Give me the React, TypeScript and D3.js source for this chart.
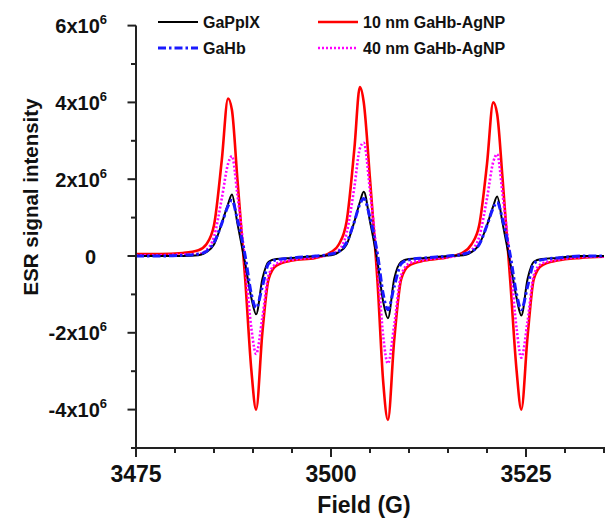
import React from "react";
import * as d3 from "d3";

const field = [
  3475, 3478, 3481,
  3483, 3484, 3485, 3486, 3486.8, 3487.3, 3488, 3489, 3489.8, 3490.4, 3491.2, 3492, 3493,
  3495, 3498,
  3500, 3501, 3502, 3503, 3503.7, 3504.2, 3505, 3506, 3506.7, 3507.3, 3508.1, 3509, 3510,
  3512, 3515,
  3517, 3518, 3519, 3520, 3520.8, 3521.3, 3522, 3523, 3523.8, 3524.4, 3525.2, 3526, 3527,
  3529, 3532, 3535,
];

// values in units of 1e6
const gaPpIX = [
  0, 0, 0,
  0.02, 0.1, 0.3, 0.85, 1.35, 1.6, 0.85, -0.2, -1.1, -1.52, -0.6, -0.15, -0.08,
  -0.05, 0,
  0.02, 0.1, 0.3, 0.9, 1.4, 1.67, 0.9, -0.2, -1.2, -1.62, -0.6, -0.15, -0.08,
  -0.05, 0,
  0.02, 0.1, 0.3, 0.8, 1.3, 1.55, 0.85, -0.2, -1.1, -1.55, -0.6, -0.15, -0.08,
  -0.05, 0, 0,
];
const gaHb = [
  0, 0, 0.02,
  0.05, 0.12, 0.35, 0.85, 1.3, 1.45, 0.95, 0.0, -1.0, -1.35, -0.8, -0.2, -0.1,
  -0.05, 0,
  0.05, 0.12, 0.35, 0.9, 1.35, 1.5, 1.0, 0.0, -1.0, -1.4, -0.8, -0.2, -0.1,
  -0.05, 0,
  0.05, 0.12, 0.3, 0.8, 1.25, 1.4, 0.95, 0.0, -1.0, -1.4, -0.8, -0.2, -0.1,
  -0.05, 0, 0,
];
const nm10 = [
  0.05, 0.05, 0.08,
  0.15, 0.3, 0.8, 2.5, 4.1, 3.8, 2.0, -0.6, -3.0, -4.0, -2.0, -0.6, -0.25,
  -0.12, -0.05,
  0.1, 0.3, 0.9, 2.8, 4.4, 4.0, 2.0, -0.8, -3.3, -4.27, -2.2, -0.6, -0.25,
  -0.12, -0.03,
  0.1, 0.3, 0.8, 2.4, 4.0, 3.7, 2.0, -0.7, -3.0, -4.0, -2.1, -0.6, -0.25,
  -0.12, -0.05, -0.02,
];
const nm40 = [
  0.02, 0.02, 0.04,
  0.05, 0.15, 0.5, 1.5, 2.4, 2.6, 1.6, -0.2, -1.9, -2.55, -1.6, -0.5, -0.2,
  -0.1, -0.03,
  0.05, 0.15, 0.6, 1.8, 2.8, 2.95, 1.7, -0.3, -2.1, -2.8, -1.8, -0.5, -0.2,
  -0.1, -0.03,
  0.05, 0.15, 0.5, 1.5, 2.45, 2.65, 1.6, -0.2, -1.9, -2.65, -1.7, -0.5, -0.2,
  -0.1, -0.03, -0.01,
];

const yMajor = [-4, -2, 0, 2, 4, 6];
const yMinor = [-5, -3, -1, 1, 3, 5];
const xMajor = [3475, 3500, 3525];
const xMinor = [3480, 3485, 3490, 3495, 3505, 3510, 3515, 3520, 3530, 3535];

const seriesNames = ["GaPpIX", "GaHb", "10 nm GaHb-AgNP", "40 nm GaHb-AgNP"];

export default function App() {
  const W = 605, H = 520;
  const x = d3.scaleLinear().domain([3475, 3535]).range([136, 604]);
  const y = d3.scaleLinear().domain([-5, 6]).range([448, 25.6]);
  const line = (vals: number[]) =>
    d3
      .line<number>()
      .x((_, i) => x(field[i]))
      .y((v) => y(v))
      .curve(d3.curveMonotoneX)(vals) || "";

  const styles = [
    { color: "#000000", width: 2, dash: undefined as string | undefined, data: gaPpIX },
    { color: "#1a1aff", width: 3, dash: "8,3,2.5,3", data: gaHb },
    { color: "#ff0000", width: 2.6, dash: undefined, data: nm10 },
    { color: "#ff00ff", width: 2.6, dash: "2,2", data: nm40 },
  ];
  const drawOrder = [2, 3, 0, 1];
  const axisColor = "#222";
  const font = "'Liberation Sans', Arial, sans-serif";

  const legendPos = [
    { lx: 158, ty: 28 },
    { lx: 158, ty: 54 },
    { lx: 318, ty: 28 },
    { lx: 318, ty: 54 },
  ];

  return (
    <svg width={W} height={H} style={{ position: "absolute", left: 0, top: 0, background: "#fff" }} fontFamily={font}>
      <rect x={0} y={0} width={W} height={H} fill="#fff" />
      {drawOrder.map((k) => (
        <path
          key={k}
          d={line(styles[k].data)}
          fill="none"
          stroke={styles[k].color}
          strokeWidth={styles[k].width}
          strokeDasharray={styles[k].dash}
          strokeLinejoin="round"
        />
      ))}
      {/* axes */}
      <line x1={x(3475)} x2={x(3475)} y1={y(6)} y2={y(-5)} stroke={axisColor} strokeWidth={2} />
      <line x1={x(3475) - 1} x2={W} y1={y(-5)} y2={y(-5)} stroke={axisColor} strokeWidth={2} />
      {yMajor.map((v) => (
        <line key={"ym" + v} x1={x(3475) - 8.5} x2={x(3475)} y1={y(v)} y2={y(v)} stroke={axisColor} strokeWidth={2} />
      ))}
      {yMinor.map((v) => (
        <line key={"yn" + v} x1={x(3475) - 5} x2={x(3475)} y1={y(v)} y2={y(v)} stroke={axisColor} strokeWidth={2} />
      ))}
      {xMajor.map((v) => (
        <line key={"xm" + v} x1={x(v)} x2={x(v)} y1={y(-5)} y2={y(-5) + 9} stroke={axisColor} strokeWidth={2} />
      ))}
      {xMinor.map((v) => (
        <line key={"xn" + v} x1={x(v)} x2={x(v)} y1={y(-5)} y2={y(-5) + 5} stroke={axisColor} strokeWidth={2} />
      ))}
      {/* y tick labels */}
      {yMajor.map((v) =>
        v === 0 ? (
          <text key={"yl" + v} x={96} y={y(v) + 7.5} textAnchor="end" fontSize={20} fontWeight="bold" fill="#111">
            0
          </text>
        ) : (
          <text key={"yl" + v} x={107} y={y(v) + 7.5} textAnchor="end" fontSize={20} fontWeight="bold" fill="#111">
            {`${v}x10`}
            <tspan fontSize={13} dy={-9}>6</tspan>
          </text>
        )
      )}
      {/* x tick labels */}
      {xMajor.map((v) => (
        <text key={"xl" + v} x={x(v)} y={482} textAnchor="middle" fontSize={23} fontWeight="bold" fill="#111">
          {v}
        </text>
      ))}
      <text x={x(3500) + 33} y={513} textAnchor="middle" fontSize={23} fontWeight="bold" fill="#111">
        Field (G)
      </text>
      <text
        transform={`translate(38, ${197}) rotate(-90)`}
        textAnchor="middle"
        fontSize={20.5}
        fontWeight="bold"
        fill="#111"
      >
        ESR signal intensity
      </text>
      {/* legend */}
      {seriesNames.map((name, i) => (
        <g key={name}>
          <line
            x1={legendPos[i].lx}
            x2={legendPos[i].lx + 40}
            y1={legendPos[i].ty - 6}
            y2={legendPos[i].ty - 6}
            stroke={styles[i].color}
            strokeWidth={styles[i].width}
            strokeDasharray={styles[i].dash}
          />
          <text x={legendPos[i].lx + 45} y={legendPos[i].ty} fontSize={16} fontWeight="bold" fill="#111">
            {name}
          </text>
        </g>
      ))}
    </svg>
  );
}
